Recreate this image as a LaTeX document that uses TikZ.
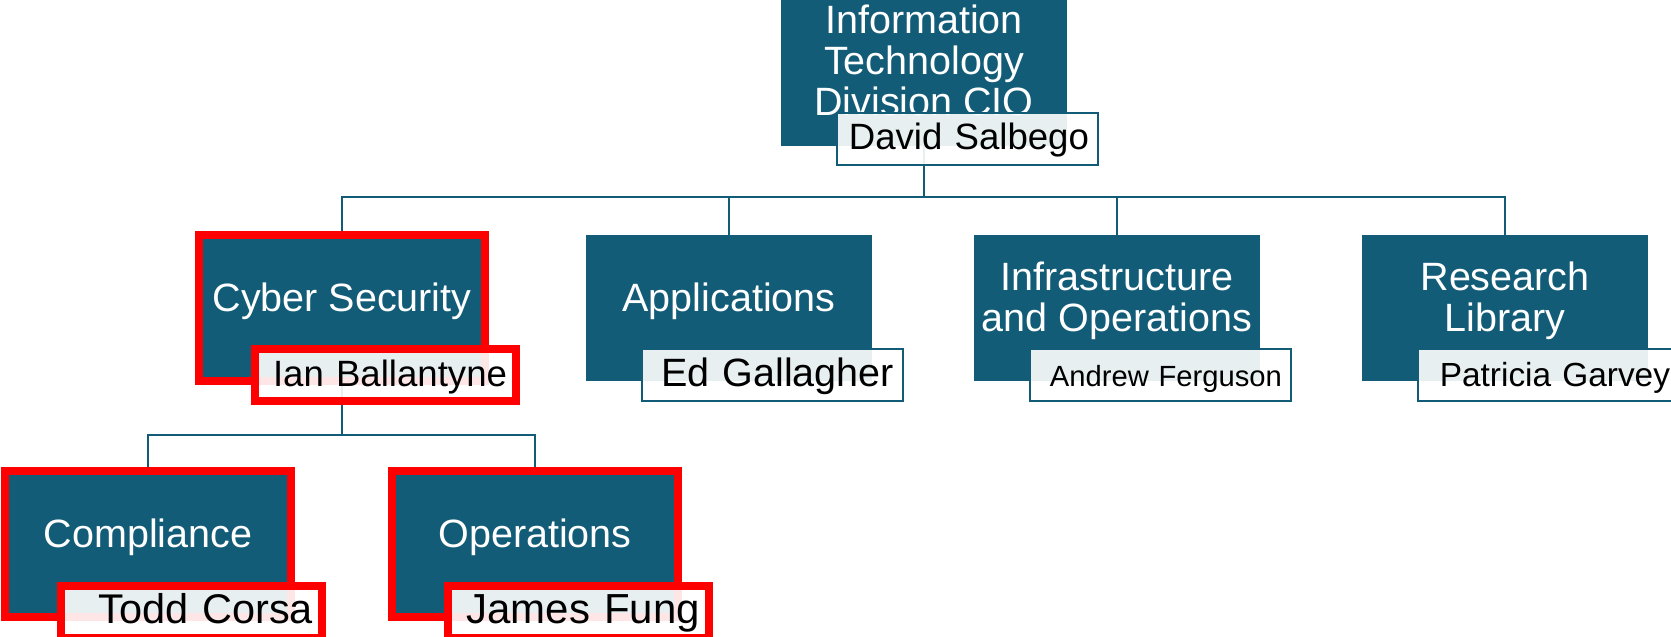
\documentclass[tikz,border=0pt]{standalone}
\usepackage{fontspec}
\setmainfont{Liberation Sans}
\usetikzlibrary{backgrounds}

\definecolor{itblue}{HTML}{135C78}

\begin{document}
\begin{tikzpicture}[x=1pt, y=-1pt,
  unit/.style={fill=itblue, minimum width=286pt, minimum height=146pt, inner sep=0pt},
  unittext/.style={text=white, font=\fontsize{39.5}{41}\selectfont, align=center, inner sep=0pt},
  person/.style={fill=white, fill opacity=0.9, text opacity=1, draw=itblue, line width=2pt,
    minimum height=52pt, text width=243pt, align=right, inner xsep=9pt, inner ysep=0pt,
    text height=30pt, text depth=8pt, font=\fontsize{37}{37}\selectfont},
  flagged/.style={draw=red, line width=8pt},
  link/.style={draw=itblue, line width=2pt}]

% Parameters
\def\busy{197}   % y of the division bus
\def\suby{435}   % y of the cyber security bus

\useasboundingbox (0,0) rectangle (1671,637);

% CIO
\node[unit] (cio) at (924,72.5) {};
\node[unittext] (cio-t) at ([yshift=12.5pt]cio.center) {Information\\Technology\\Division CIO};
\node[person, font=\fontsize{36.6}{36.6}\selectfont] (cio-p) at ([xshift=43.5pt, yshift=-66pt]cio.center) {David Salbego};

% Divisions
\node[unit, flagged] (cyb) at (342,308) {};
\node[unittext] (cyb-t) at ([yshift=7pt]cyb.center) {Cyber Security};
\node[person, flagged, font=\fontsize{36.6}{36.6}\selectfont] (cyb-p) at ([xshift=43.5pt, yshift=-67pt]cyb.center) {Ian Ballantyne};

\node[unit] (app) at (729,308) {};
\node[unittext] (app-t) at ([yshift=7pt]app.center) {Applications};
\node[person, font=\fontsize{39.5}{39.5}\selectfont] (app-p) at ([xshift=43.5pt, yshift=-67pt]app.center) {Ed Gallagher};

\node[unit] (inf) at (1117,308) {};
\node[unittext] (inf-t) at ([yshift=7pt]inf.center) {Infrastructure\\and Operations};
\node[person, font=\fontsize{29.2}{29.2}\selectfont] (inf-p) at ([xshift=43.5pt, yshift=-67pt]inf.center) {Andrew Ferguson};

\node[unit] (lib) at (1505,308) {};
\node[unittext] (lib-t) at ([yshift=7pt]lib.center) {Research\\Library};
\node[person, font=\fontsize{33.4}{33.4}\selectfont] (lib-p) at ([xshift=43.5pt, yshift=-67pt]lib.center) {Patricia Garvey};

% Cyber security teams
\node[unit, flagged] (cmp) at (148,544) {};
\node[unittext] (cmp-t) at ([yshift=7pt]cmp.center) {Compliance};
\node[person, flagged, font=\fontsize{41.5}{41.5}\selectfont] (cmp-p) at ([xshift=43.5pt, yshift=-68pt]cmp.center) {Todd Corsa};

\node[unit, flagged] (ops) at (535,544) {};
\node[unittext] (ops-t) at ([yshift=7pt]ops.center) {Operations};
\node[person, flagged, font=\fontsize{42}{42}\selectfont] (ops-p) at ([xshift=43.5pt, yshift=-68pt]ops.center) {James Fung};

% Connectors (behind the boxes)
\coordinate (bus) at (924,\busy);
\coordinate (sub) at (342,\suby);
\begin{scope}[on background layer]
\draw[link] (cio.center) -- (bus);
\draw[link] (bus) -| (cyb.north);
\draw[link] (bus) -| (app.north);
\draw[link] (bus) -| (inf.north);
\draw[link] (bus) -| (lib.north);
\draw[link] (cyb.center) -- (sub);
\draw[link] (sub) -| (cmp.north);
\draw[link] (sub) -| (ops.north);
\end{scope}

\end{tikzpicture}
\end{document}
